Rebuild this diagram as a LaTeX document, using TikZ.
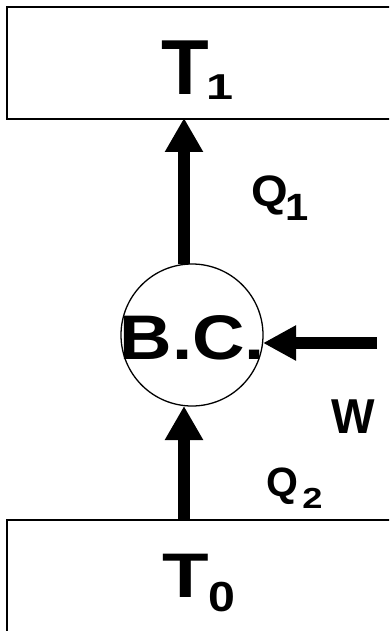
\documentclass[tikz,border=0pt]{standalone}
\usepackage{fontspec}
\setmainfont{Liberation Sans}
\usetikzlibrary{arrows.meta}
\newcommand\gl[3]{\scalebox{#2}[1]{\fontsize{#1}{#1}\selectfont #3}}
\begin{document}
\begin{tikzpicture}[x=1pt,y=-1pt,
  txt/.style={inner sep=0pt,outer sep=0pt,font=\bfseries},
  reservoir/.style={draw,line width=2.8pt,rectangle,inner sep=0pt,outer sep=0pt,anchor=north west},
  flowv/.style={line width=12pt,-{Triangle[length=34pt,width=36pt]}},
  flowh/.style={line width=12pt,-{Triangle[length=33pt,width=33pt]}}]
\path[use as bounding box,clip] (0,0) rectangle (389,631);
\fill[white] (0,0) rectangle (389,631);
% reservoirs
\node (top) [reservoir,minimum width=393pt,minimum height=112pt] at (7,7) {};
\node (bot) [reservoir,minimum width=393pt,minimum height=130pt] at (7,520) {};
% machine
\node (c) [circle,draw,line width=1.3pt,minimum size=142pt,inner sep=0pt,outer sep=0pt] at (192,335) {};
\node (bc) [txt,anchor=base] at (192.5,359) {\gl{63}{1.154}{B.C.}};
% helper coordinates
\coordinate (ax) at (184,0);
\coordinate (wstart) at (377,343);
% arrows
\draw[flowv,shorten >=-1pt] (c.north -| ax) -- (top.south -| ax);
\draw[flowv] (bot.north -| ax) -- (c.south -| ax);
\draw[flowh] (wstart) -- (c.east |- wstart);
% labels
\node (t1) [txt,anchor=base west] at (161.2,95) {\gl{78}{1}{T}\kern-2pt\raisebox{-5pt}{\gl{36}{1.35}{1}}};
\node (t0) [txt,anchor=base west] at (162.3,597) {\gl{63}{1.21}{T}\kern-0.5pt\raisebox{-14pt}{\gl{42}{1.15}{0}}};
\node (q1) [txt,anchor=base west] at (251.2,206.5) {\gl{44}{1.07}{Q}\kern-2pt\raisebox{-13.5pt}{\gl{38}{1.1}{1}}};
\node (q2) [txt,anchor=base west] at (266.4,496) {\gl{41}{1}{Q}\kern4pt\raisebox{-12pt}{\gl{29}{1.25}{2}}};
\node (w) [txt,anchor=base west] at (331.8,433) {\gl{49}{0.94}{W}};
\end{tikzpicture}
\end{document}
